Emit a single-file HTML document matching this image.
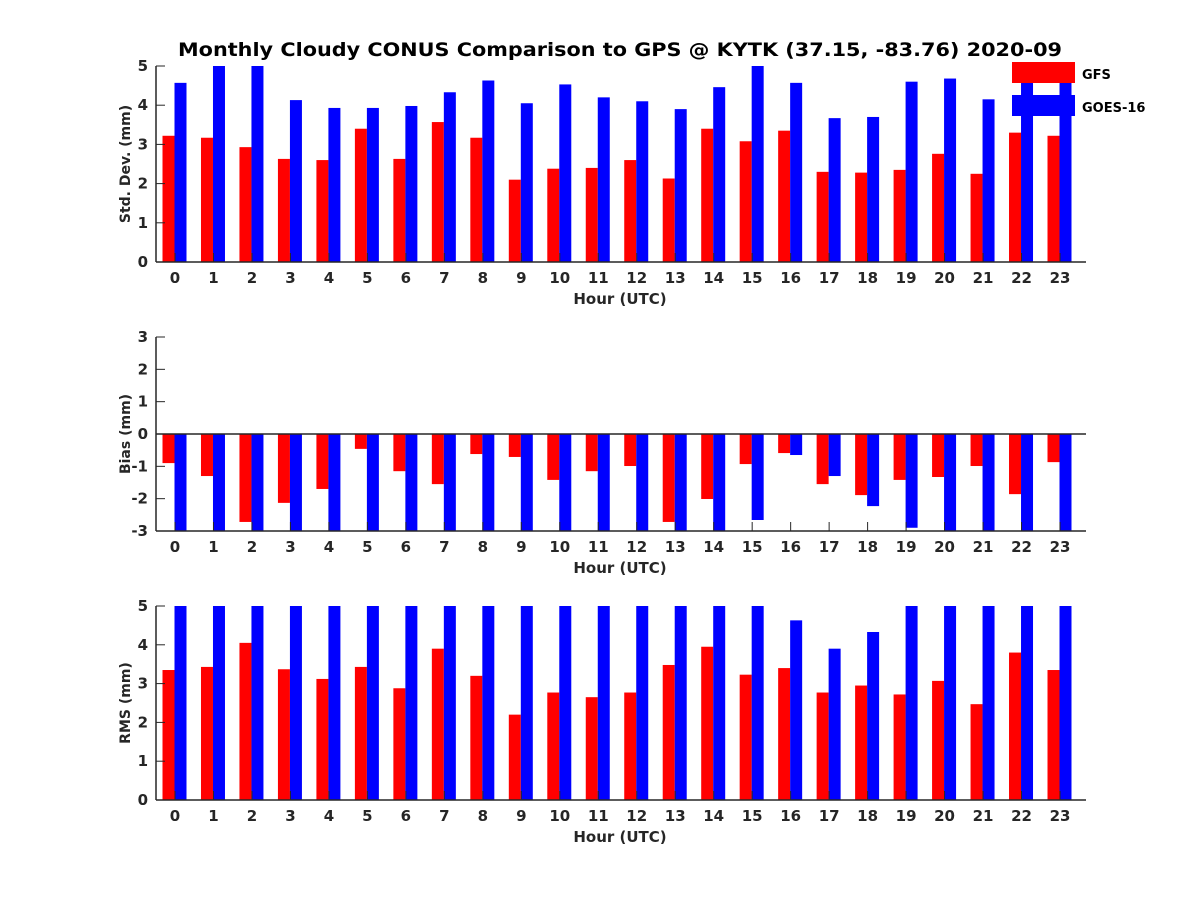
<!DOCTYPE html>
<html><head><meta charset="utf-8"><style>body{margin:0;background:#fff}svg text{font-family:"DejaVu Sans","Liberation Sans",sans-serif;font-weight:bold;fill:#262626}</style></head>
<body>
<svg id="c" width="1200" height="900" xmlns="http://www.w3.org/2000/svg">
<text x="620" y="56" text-anchor="middle" font-size="19" textLength="884" lengthAdjust="spacingAndGlyphs" style="fill:#000">Monthly Cloudy CONUS Comparison to GPS @ KYTK (37.15, -83.76) 2020-09</text>
</svg>
<script>
const hours=[0,1,2,3,4,5,6,7,8,9,10,11,12,13,14,15,16,17,18,19,20,21,22,23];
const stdGFS=[3.22,3.17,2.93,2.63,2.6,3.4,2.63,3.57,3.17,2.1,2.38,2.4,2.6,2.13,3.4,3.08,3.35,2.3,2.28,2.35,2.76,2.25,3.3,3.22];
const stdGOES=[4.57,5.3,5.3,4.13,3.93,3.93,3.98,4.33,4.63,4.05,4.53,4.2,4.1,3.9,4.46,5.3,4.57,3.67,3.7,4.6,4.68,4.15,5.3,4.7];
const biasGFS=[-0.9,-1.3,-2.72,-2.13,-1.7,-0.46,-1.15,-1.55,-0.62,-0.71,-1.42,-1.15,-0.99,-2.72,-2.01,-0.93,-0.59,-1.55,-1.89,-1.42,-1.33,-0.99,-1.86,-0.87];
const biasGOES=[-3.5,-3.5,-3.5,-3.5,-3.5,-3.5,-3.5,-3.5,-3.5,-3.5,-3.5,-3.5,-3.5,-3.5,-3.5,-2.66,-0.65,-1.3,-2.23,-2.9,-3.5,-3.5,-3.5,-3.5];
const rmsGFS=[3.35,3.43,4.05,3.37,3.12,3.43,2.88,3.9,3.2,2.2,2.77,2.65,2.77,3.48,3.95,3.23,3.4,2.77,2.95,2.72,3.07,2.47,3.8,3.35];
const rmsGOES=[5.3,5.3,5.3,5.3,5.3,5.3,5.3,5.3,5.3,5.3,5.3,5.3,5.3,5.3,5.3,5.3,4.63,3.9,4.33,5.3,5.3,5.3,5.3,5.3];
const stdTicks=[0,1,2,3,4,5], biasTicks=[-3,-2,-1,0,1,2,3], rmsTicks=[0,1,2,3,4,5];
const svg=document.getElementById('c');const NS='http://www.w3.org/2000/svg';
function mk(t,a,p){const e=document.createElementNS(NS,t);for(const k in a)e.setAttribute(k,a[k]);(p||svg).appendChild(e);return e;}
const X0=156,X1=1086;
function xs(h){return 175+(h-hours[0])*(1060-175)/(hours[hours.length-1]-hours[0]);}
function panel(id,top,bot,ymin,ymax,ticks,red,blue,ylab,zeroLine){
  const g=mk('g',{});
  
  
  const ys=v=>bot-(v-ymin)*(bot-top)/(ymax-ymin);
  const cp=mk('clipPath',{id:'cp'+id},g);mk('rect',{x:X0,y:top,width:X1-X0,height:bot-top},cp);
  const bg=mk('g',{'clip-path':'url(#cp'+id+')'},g);
  const base=ys(Math.max(ymin,0));
  hours.forEach((h,i)=>{
    [[red[i],-12,'#ff0000','gfs'],[blue[i],0,'#0000ff','goes']].forEach(([v,dx,col,n])=>{
      const y=ys(v);const r=mk('rect',{x:xs(h)+dx-0.5,y:Math.min(y,base),width:12,height:Math.abs(base-y),fill:col},bg);
      
      
    });
  });
  if(zeroLine)mk('line',{x1:X0,x2:X1,y1:ys(0),y2:ys(0),stroke:'#262626','stroke-width':1.5},g);
  mk('line',{x1:X0,x2:X0,y1:top,y2:bot,stroke:'#262626','stroke-width':1.5},g);
  mk('line',{x1:X0,x2:X1,y1:bot,y2:bot,stroke:'#262626','stroke-width':1.5},g);
  ticks.forEach(t=>{const y=ys(t);mk('line',{x1:X0,x2:X0+9,y1:y,y2:y,stroke:'#262626'},g);
    const tx=mk('text',{x:X0-8,y:y+5,'text-anchor':'end','font-size':15},g);tx.textContent=t;
    });
  hours.forEach(h=>{mk('line',{x1:xs(h),x2:xs(h),y1:bot,y2:bot-9,stroke:'#262626'},g);
    const tx=mk('text',{x:xs(h),y:bot+21,'text-anchor':'middle','font-size':15},g);tx.textContent=h;
    });
  const xl=mk('text',{x:620,y:bot+42,'text-anchor':'middle','font-size':15},g);xl.textContent='Hour (UTC)';
  
  const yl=mk('text',{x:0,y:0,'text-anchor':'middle','font-size':14,transform:`translate(130,${(top+bot)/2}) rotate(-90)`},g);yl.textContent=ylab;
  
}
panel('std',66,262,0,5,stdTicks,stdGFS,stdGOES,'Std. Dev. (mm)',false);
panel('bias',337,531,-3,3,biasTicks,biasGFS,biasGOES,'Bias (mm)',true);
panel('rms',606,800,0,5,rmsTicks,rmsGFS,rmsGOES,'RMS (mm)',false);
const lg=mk('g',{});


mk('rect',{x:1012,y:62,width:63,height:21,fill:'#ff0000'},lg);
mk('rect',{x:1012,y:95,width:63,height:21,fill:'#0000ff'},lg);
const l1=mk('text',{x:1082,y:79,'font-size':13,style:'fill:#000'},lg);l1.textContent='GFS';

const l2=mk('text',{x:1082,y:112,'font-size':13,style:'fill:#000'},lg);l2.textContent='GOES-16';

</script>
</body></html>
